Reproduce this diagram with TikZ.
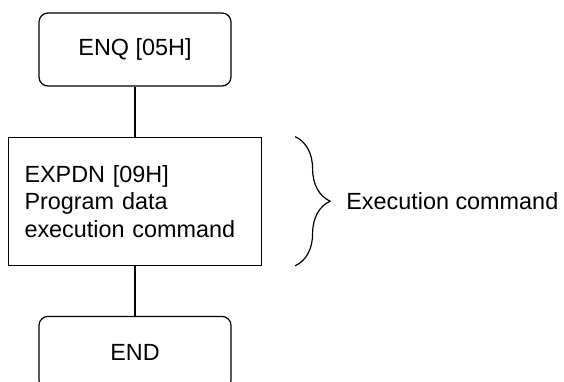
\documentclass[tikz,border=0pt]{standalone}
\usepackage{fontspec}
\setmainfont{Liberation Sans}
\usepackage{tikz}
\usetikzlibrary{positioning, decorations.pathreplacing}

\tikzset{
    cmdbox/.style={draw, line width=1.2pt, rounded corners=9pt, minimum width=192pt, minimum height=73pt, inner sep=0pt},
    bodybox/.style={draw, line width=1.2pt, text width=221pt, inner xsep=16pt, inner ysep=0pt, minimum height=128pt, align=left},
}

\begin{document}
\begin{tikzpicture}[x=1pt, y=1pt, node distance=50pt, font=\fontsize{23.4}{27.5}\selectfont]
    \useasboundingbox (0,0) rectangle (564,-382);

    % 流程框
    \node[cmdbox] (enq) at (135,-49.5) {ENQ [05H]};
    \node[bodybox, below=of enq] (expdn) {EXPDN [09H]\\Program data\\execution command};
    \node[cmdbox, below=of expdn] (endbox) {END};

    % 连线
    \draw[line width=1.2pt] (enq) -- (expdn);
    \draw[line width=1.2pt] (expdn) -- (endbox);

    % 括号
    \draw[line width=1.2pt, decorate, decoration={brace, amplitude=35pt}]
        ([xshift=33pt]expdn.north east) -- ([xshift=33pt]expdn.south east);
    \node[anchor=west, inner sep=0pt] (lbl) at ([xshift=84pt]expdn.east) {Execution command};
\end{tikzpicture}
\end{document}
